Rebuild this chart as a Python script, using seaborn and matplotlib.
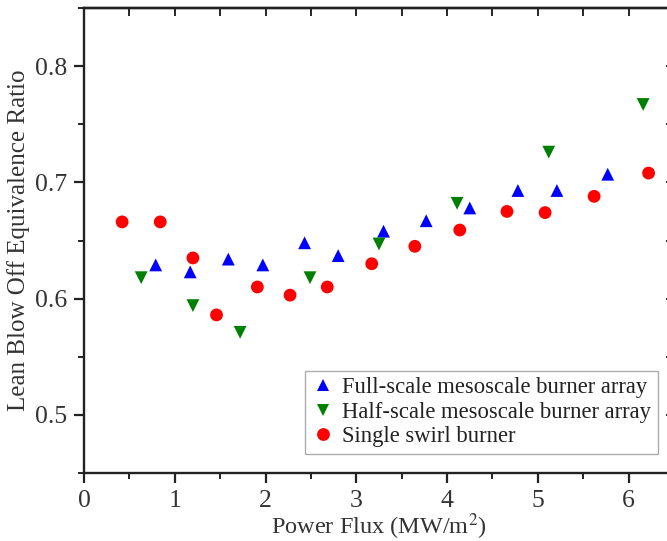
import numpy as np
import pandas as pd
import matplotlib
matplotlib.use("Agg")
import matplotlib.pyplot as plt
import seaborn as sns
from matplotlib.ticker import MultipleLocator, FuncFormatter

series_names = ["Full-scale mesoscale burner array",
                "Half-scale mesoscale burner array",
                "Single swirl burner"]

full_x = [0.79, 1.17, 1.59, 1.97, 2.43, 2.80, 3.30, 3.77, 4.25, 4.78, 5.21, 5.77]
full_y = [0.629, 0.623, 0.634, 0.629, 0.648, 0.637, 0.658, 0.667, 0.678, 0.693, 0.693, 0.707]

half_x = [0.63, 1.20, 1.72, 2.49, 3.25, 4.11, 5.12, 6.16]
half_y = [0.618, 0.594, 0.571, 0.618, 0.647, 0.682, 0.726, 0.767]

single_x = [0.42, 0.84, 1.20, 1.46, 1.91, 2.27, 2.68, 3.17, 3.645, 4.14, 4.66, 5.08, 5.62, 6.22]
single_y = [0.666, 0.666, 0.635, 0.586, 0.610, 0.603, 0.610, 0.630, 0.645, 0.659, 0.675, 0.674, 0.688, 0.708]

df = pd.concat([
    pd.DataFrame({"x": full_x, "y": full_y, "series": series_names[0]}),
    pd.DataFrame({"x": half_x, "y": half_y, "series": series_names[1]}),
    pd.DataFrame({"x": single_x, "y": single_y, "series": series_names[2]}),
], ignore_index=True)

sns.set_style("ticks")
plt.rcParams["font.family"] = ["Liberation Serif", "DejaVu Serif"]
plt.rcParams["mathtext.fontset"] = "stix"

fig = plt.figure(figsize=(6.67, 5.41), dpi=100)
ax = fig.add_axes([84/667, 68/541, 590/667, 465/541])

palette = {series_names[0]: "#0000ff", series_names[1]: "#008000", series_names[2]: "#ff0000"}
markers = {series_names[0]: "^", series_names[1]: "v", series_names[2]: "o"}

sns.scatterplot(data=df, x="x", y="y", hue="series", style="series",
                palette=palette, markers=markers, s=85, linewidth=0,
                ax=ax, legend=True)

ax.set_xlim(0, 6.5)
ax.set_ylim(0.45, 0.85)
ax.xaxis.set_major_locator(MultipleLocator(1))
ax.xaxis.set_minor_locator(MultipleLocator(0.5))
ax.yaxis.set_major_locator(MultipleLocator(0.1))
ax.yaxis.set_minor_locator(MultipleLocator(0.05))
ax.xaxis.set_major_formatter(FuncFormatter(lambda v, p: f"{v:.0f}"))
ax.yaxis.set_major_formatter(FuncFormatter(lambda v, p: f"{v:.1f}"))

for sp in ax.spines.values():
    sp.set_linewidth(1.7)
    sp.set_color("#222222")

ax.tick_params(which="major", direction="out", length=7, width=1.6, labelsize=18.5, colors="#222222")
ax.tick_params(which="minor", direction="out", length=4, width=1.4, colors="#222222")
ax.tick_params(axis="x", which="major", pad=5)
ax.tick_params(axis="y", which="major", pad=5)
ax.tick_params(axis="both", labelcolor="#333333")

# mirrored inward ticks on top and right
top = ax.secondary_xaxis("top")
top.xaxis.set_major_locator(MultipleLocator(1))
top.xaxis.set_minor_locator(MultipleLocator(0.5))
top.tick_params(which="both", direction="in", length=6, width=1.4, labeltop=False)
top.spines["top"].set_linewidth(1.7)
right = ax.secondary_yaxis("right")
right.yaxis.set_major_locator(MultipleLocator(0.1))
right.yaxis.set_minor_locator(MultipleLocator(0.05))
right.tick_params(which="both", direction="in", length=6, width=1.4, labelright=False)
right.spines["right"].set_linewidth(1.7)

ax.set_xlabel("Power Flux (MW/m$^2$)", fontsize=17.5, color="#333333", labelpad=0)
ax.set_ylabel("Lean Blow Off Equivalence Ratio", fontsize=18, color="#333333", labelpad=4)

leg = ax.legend(loc="lower right", bbox_to_anchor=((658-84)/590, 19/465),
                frameon=True, fancybox=False, fontsize=16.3, handletextpad=0.35,
                borderpad=0.3, labelspacing=0.15, handlelength=1.0, borderaxespad=0)
leg.get_frame().set_edgecolor("#999999")
leg.get_frame().set_linewidth(1.0)
for t in leg.get_texts():
    t.set_color("#222222")

fig.savefig("out.png", dpi=100)
